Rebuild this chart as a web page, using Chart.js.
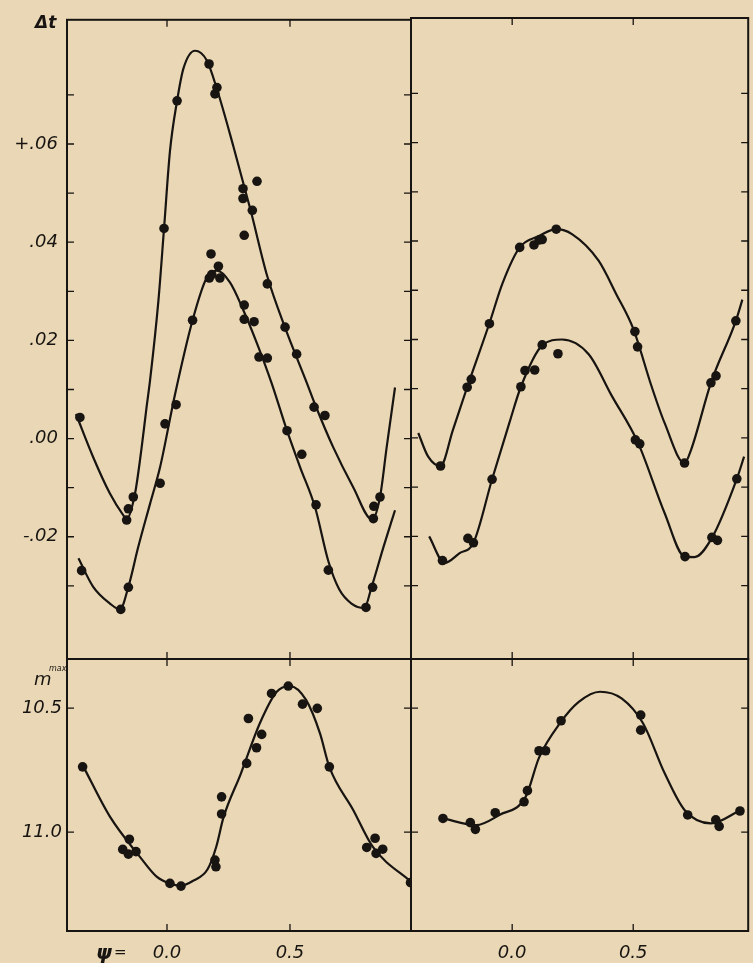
<!DOCTYPE html>
<html>
<head>
<meta charset="utf-8">
<title>Δt and m max against phase</title>
<script src="https://cdn.jsdelivr.net/npm/chart.js@4.4.1/dist/chart.umd.min.js"></script>
<style>
  html, body { margin: 0; padding: 0; background: #ead7b5; }
  #sheet { position: relative; width: 753px; height: 963px; overflow: hidden; background: #ead7b5; }
  #sheet canvas { position: absolute; left: 0; top: 0; }
  .note { position: absolute; font-family: "DejaVu Sans", sans-serif; font-style: italic; color: #171411; line-height: 1; white-space: nowrap; }
</style>
</head>
<body>
<div id="sheet">
  <canvas id="dtLeft" width="753" height="963"></canvas>
  <canvas id="dtRight" width="753" height="963"></canvas>
  <canvas id="magLeft" width="753" height="963"></canvas>
  <canvas id="magRight" width="753" height="963"></canvas>
  <div class="note" style="left:35px;top:14px;font-size:17px;font-weight:bold;">Δt</div>
  <div class="note" style="left:34px;top:670px;font-size:18px;">m</div>
  <div class="note" style="left:49px;top:665px;font-size:8px;">max</div>
  <div class="note" style="left:96px;top:942px;font-size:20px;font-weight:bold;">ψ</div>
  <div class="note" style="left:114px;top:945px;font-size:15px;">=</div>
</div>
<script>
const ink = '#171411';

// phase axis, same for all panels
const psiTicks = [0.0, 0.5];
const psiTickLabels = ['0.0', '0.5'];

// upper panels: delta t, a tick every .01
const dtTicks = [-0.03, -0.02, -0.01, 0.00, 0.01, 0.02, 0.03, 0.04, 0.05, 0.06, 0.07];
const dtTickLabels = ['', '-.02', '', '.00', '', '.02', '', '.04', '', '+.06', ''];

// lower panels: magnitude at maximum
const magTicks = [10.5, 11.0];
const magTickLabels = ['10.5', '11.0'];

// upper left, upper curve
const tlObsPsiA = [-0.354, -0.164, -0.157, -0.137, -0.012, 0.041, 0.171, 0.195, 0.203, 0.309, 0.309, 0.314, 0.347, 0.366, 0.408, 0.480, 0.527, 0.598, 0.642, 0.839, 0.841, 0.866];
const tlObsDtA  = [0.0043, -0.0166, -0.0143, -0.0119, 0.0428, 0.0688, 0.0763, 0.0702, 0.0715, 0.0509, 0.0489, 0.0414, 0.0465, 0.0524, 0.0315, 0.0227, 0.0172, 0.0064, 0.0047, -0.0163, -0.0138, -0.0119];
const tlFitPsiA = [-0.370, -0.300, -0.232, -0.178, -0.164, -0.130, -0.103, -0.083, -0.069, -0.035, -0.012, 0.012, 0.041, 0.067, 0.114, 0.161, 0.203, 0.270, 0.340, 0.408, 0.480, 0.568, 0.600, 0.676, 0.757, 0.834, 0.866, 0.893, 0.927];
const tlFitDtA  = [0.0050, -0.0038, -0.0112, -0.0156, -0.0164, -0.0112, -0.0018, 0.0064, 0.0118, 0.0280, 0.0428, 0.0585, 0.0688, 0.0754, 0.0790, 0.0771, 0.0712, 0.0595, 0.0465, 0.0330, 0.0226, 0.0114, 0.0072, -0.0018, -0.0099, -0.0165, -0.0119, -0.0018, 0.0104];

// upper left, lower curve
const tlObsPsiB = [-0.347, -0.188, -0.157, -0.028, -0.008, 0.037, 0.104, 0.172, 0.179, 0.182, 0.209, 0.215, 0.314, 0.314, 0.354, 0.374, 0.408, 0.488, 0.548, 0.606, 0.656, 0.809, 0.836];
const tlObsDtB  = [-0.0269, -0.0348, -0.0303, -0.0091, 0.0030, 0.0069, 0.0241, 0.0327, 0.0376, 0.0334, 0.0351, 0.0327, 0.0272, 0.0243, 0.0238, 0.0166, 0.0164, 0.0016, -0.0032, -0.0135, -0.0268, -0.0344, -0.0303];
const tlFitPsiB = [-0.360, -0.300, -0.232, -0.191, -0.157, -0.117, -0.069, -0.028, 0.033, 0.104, 0.161, 0.203, 0.256, 0.310, 0.365, 0.426, 0.488, 0.541, 0.602, 0.656, 0.700, 0.750, 0.802, 0.832, 0.880, 0.927];
const tlFitDtB  = [-0.0244, -0.0302, -0.0336, -0.0348, -0.0302, -0.0221, -0.0133, -0.0058, 0.0091, 0.0241, 0.0327, 0.0342, 0.0318, 0.0262, 0.0195, 0.0112, 0.0016, -0.0058, -0.0140, -0.0250, -0.0307, -0.0336, -0.0345, -0.0302, -0.0221, -0.0146];

// upper right, upper curve
const trObsPsiC = [-0.296, -0.186, -0.169, -0.094, 0.031, 0.090, 0.111, 0.124, 0.182, 0.507, 0.518, 0.712, 0.821, 0.842, 0.924];
const trObsDtC  = [-0.0057, 0.0103, 0.0119, 0.0232, 0.0387, 0.0392, 0.0402, 0.0403, 0.0424, 0.0216, 0.0185, -0.0051, 0.0112, 0.0126, 0.0238];
const trFitPsiC = [-0.388, -0.347, -0.296, -0.245, -0.186, -0.094, -0.040, 0.031, 0.110, 0.182, 0.247, 0.357, 0.430, 0.500, 0.575, 0.630, 0.712, 0.739, 0.821, 0.924, 0.951];
const trFitDtC  = [0.0010, -0.0038, -0.0057, 0.0016, 0.0103, 0.0233, 0.0314, 0.0387, 0.0410, 0.0424, 0.0414, 0.0360, 0.0292, 0.0222, 0.0106, 0.0030, -0.0051, -0.0024, 0.0112, 0.0238, 0.0281];

// upper right, lower curve
const trObsPsiD = [-0.288, -0.183, -0.160, -0.083, 0.036, 0.053, 0.093, 0.124, 0.189, 0.509, 0.527, 0.714, 0.825, 0.848, 0.928];
const trObsDtD  = [-0.0249, -0.0204, -0.0213, -0.0084, 0.0104, 0.0137, 0.0138, 0.0189, 0.0171, -0.0004, -0.0012, -0.0241, -0.0202, -0.0208, -0.0083];
const trFitPsiD = [-0.343, -0.279, -0.217, -0.160, -0.083, -0.012, 0.036, 0.124, 0.206, 0.316, 0.411, 0.520, 0.630, 0.712, 0.753, 0.825, 0.928, 0.958];
const trFitDtD  = [-0.0200, -0.0254, -0.0234, -0.0213, -0.0084, 0.0030, 0.0104, 0.0188, 0.0200, 0.0170, 0.0086, -0.0010, -0.0153, -0.0241, -0.0242, -0.0203, -0.0083, -0.0038];

// lower left
const blObsPsi = [-0.343, -0.180, -0.153, -0.157, -0.126, 0.012, 0.057, 0.195, 0.199, 0.222, 0.222, 0.324, 0.331, 0.364, 0.385, 0.425, 0.493, 0.551, 0.611, 0.660, 0.812, 0.846, 0.850, 0.877, 0.990];
const blObsMag = [10.737, 11.070, 11.029, 11.089, 11.079, 11.207, 11.218, 11.113, 11.140, 10.858, 10.927, 10.723, 10.542, 10.660, 10.606, 10.441, 10.411, 10.484, 10.501, 10.737, 11.062, 11.025, 11.086, 11.069, 11.204];
const blFitPsi = [-0.343, -0.232, -0.110, -0.042, 0.012, 0.057, 0.107, 0.165, 0.200, 0.230, 0.300, 0.378, 0.446, 0.500, 0.566, 0.622, 0.660, 0.757, 0.837, 1.000];
const blFitMag = [10.730, 10.938, 11.100, 11.180, 11.208, 11.216, 11.196, 11.150, 11.060, 10.940, 10.765, 10.560, 10.434, 10.411, 10.468, 10.602, 10.737, 10.911, 11.060, 11.207];

// lower right
const brObsPsi = [-0.286, -0.173, -0.152, -0.070, 0.049, 0.063, 0.111, 0.138, 0.202, 0.531, 0.531, 0.725, 0.841, 0.855, 0.941];
const brObsMag = [10.945, 10.962, 10.989, 10.922, 10.878, 10.833, 10.672, 10.672, 10.551, 10.528, 10.589, 10.931, 10.951, 10.977, 10.915];
const brFitPsi = [-0.286, -0.149, -0.053, 0.056, 0.111, 0.198, 0.275, 0.363, 0.452, 0.541, 0.630, 0.712, 0.821, 0.941];
const brFitMag = [10.945, 10.972, 10.931, 10.857, 10.700, 10.560, 10.475, 10.434, 10.461, 10.562, 10.763, 10.911, 10.965, 10.913];

const tickFont = { family: 'DejaVu Sans', style: 'italic', size: 18 };

function zip(xs, ys) {
    return xs.map((x, i) => ({ x: x, y: ys[i] }));
}

function dots(xs, ys) {
    return { data: zip(xs, ys), pointRadius: 4.8, pointHoverRadius: 4.8, backgroundColor: ink, borderWidth: 0 };
}

function curve(xs, ys) {
    return {
        data: zip(xs, ys), showLine: true, pointRadius: 0, pointHoverRadius: 0,
        borderColor: ink, borderWidth: 2.2, cubicInterpolationMode: 'monotone'
    };
}

// frame round the plot area and short inward ticks on every side
const framePlugin = {
    id: 'frame',
    afterDraw(chart) {
        const { ctx, chartArea: a, scales } = chart;
        ctx.save();
        ctx.strokeStyle = ink;
        ctx.lineWidth = 2;
        ctx.strokeRect(a.left, a.top, a.right - a.left, a.bottom - a.top);
        ctx.lineWidth = 1.3;
        ctx.beginPath();
        scales.x.ticks.forEach(t => {
            const px = scales.x.getPixelForValue(t.value);
            ctx.moveTo(px, a.top); ctx.lineTo(px, a.top + 7);
            ctx.moveTo(px, a.bottom); ctx.lineTo(px, a.bottom - 7);
        });
        scales.y.ticks.forEach(t => {
            const py = scales.y.getPixelForValue(t.value);
            ctx.moveTo(a.left, py); ctx.lineTo(a.left + 7, py);
            ctx.moveTo(a.right, py); ctx.lineTo(a.right - 7, py);
        });
        ctx.stroke();
        ctx.restore();
    }
};

// every canvas covers the whole sheet; the axis boxes fill the space left and below the frame
function panel(id, frame, xMin, xMax, yAxis, datasets) {
    return new Chart(document.getElementById(id), {
        type: 'scatter',
        data: { datasets: datasets },
        options: {
            responsive: false,
            animation: false,
            events: [],
            layout: { padding: { left: 0, top: frame.t, right: 753 - frame.r, bottom: 0 } },
            plugins: { legend: { display: false }, tooltip: { enabled: false } },
            scales: {
                x: {
                    type: 'linear', min: xMin, max: xMax,
                    afterBuildTicks: s => { s.ticks = psiTicks.map(v => ({ value: v })); },
                    afterFit: s => { s.height = 963 - frame.b; },
                    grid: { display: false, drawTicks: false },
                    border: { display: false },
                    ticks: {
                        display: frame.xLabels, padding: 12, color: ink, font: tickFont,
                        maxRotation: 0, autoSkip: false,
                        callback: (v, i) => psiTickLabels[i]
                    }
                },
                y: {
                    type: 'linear', min: yAxis.min, max: yAxis.max, reverse: yAxis.reverse,
                    afterBuildTicks: s => { s.ticks = yAxis.ticks.map(v => ({ value: v })); },
                    afterFit: s => { s.width = frame.l; },
                    grid: { display: false, drawTicks: false },
                    border: { display: false },
                    ticks: {
                        display: frame.yLabels, padding: yAxis.pad, color: ink, font: tickFont,
                        autoSkip: false,
                        callback: (v, i) => yAxis.labels[i]
                    }
                }
            }
        },
        plugins: [framePlugin]
    });
}

const dtAxis = { min: -0.0449, max: 0.0853, reverse: false, ticks: dtTicks, labels: dtTickLabels, pad: 9 };
const magAxis = { min: 10.302, max: 11.399, reverse: true, ticks: magTicks, labels: magTickLabels, pad: 5 };

panel('dtLeft', { l: 67, t: 18, r: 411, b: 659, xLabels: false, yLabels: true }, -0.4065, 0.992, dtAxis, [
    curve(tlFitPsiA, tlFitDtA), curve(tlFitPsiB, tlFitDtB),
    dots(tlObsPsiA, tlObsDtA), dots(tlObsPsiB, tlObsDtB)
]);

panel('dtRight', { l: 411, t: 18, r: 751, b: 659, xLabels: false, yLabels: false }, -0.418, 0.975, dtAxis, [
    curve(trFitPsiC, trFitDtC), curve(trFitPsiD, trFitDtD),
    dots(trObsPsiC, trObsDtC), dots(trObsPsiD, trObsDtD)
]);

panel('magLeft', { l: 67, t: 659, r: 411, b: 931, xLabels: true, yLabels: true }, -0.4065, 0.992, magAxis, [
    curve(blFitPsi, blFitMag), dots(blObsPsi, blObsMag)
]);

panel('magRight', { l: 411, t: 659, r: 751, b: 931, xLabels: true, yLabels: false }, -0.418, 0.975, magAxis, [
    curve(brFitPsi, brFitMag), dots(brObsPsi, brObsMag)
]);
</script>
</body>
</html>
